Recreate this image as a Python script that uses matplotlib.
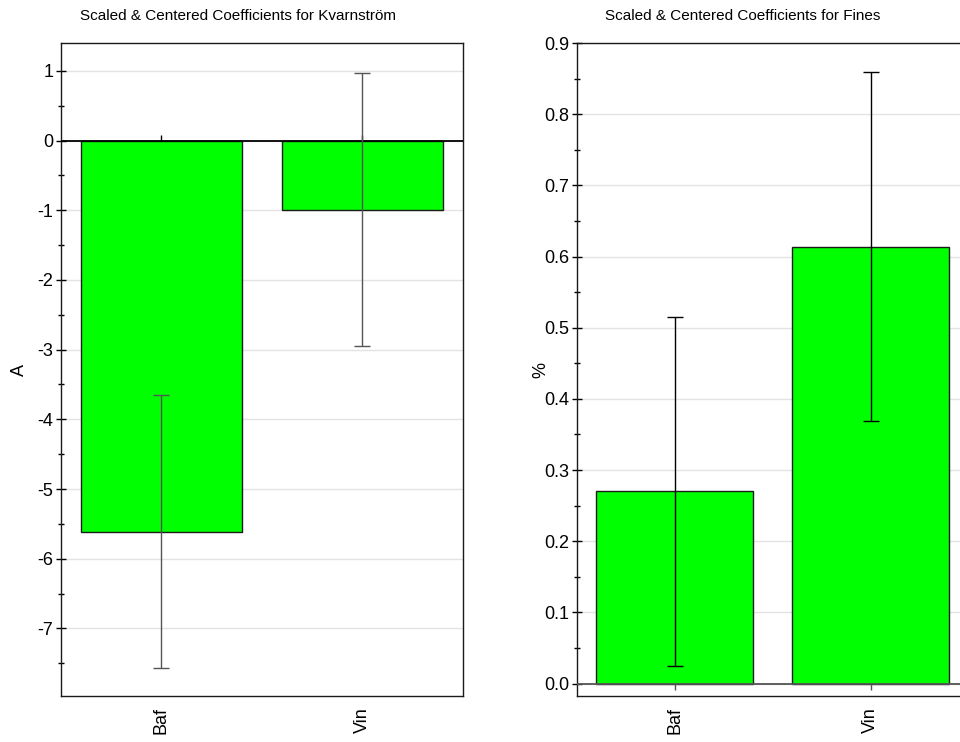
import numpy as np
import matplotlib
matplotlib.use("Agg")
import matplotlib.pyplot as plt
from matplotlib.ticker import MultipleLocator, FixedLocator, FormatStrFormatter

plt.rcParams['font.family'] = ['Liberation Sans', 'DejaVu Sans']
plt.rcParams['axes.unicode_minus'] = False

factors = ['Baf', 'Vin']

# Kvarnström response (unit A)
kv_coef = [-5.61, -0.99]
kv_err = [1.96, 1.96]
kv_ticks = [-7, -6, -5, -4, -3, -2, -1, 0, 1]

# Fines response (unit %)
fines_coef = [0.270, 0.614]
fines_err = [0.245, 0.245]
fines_ticks = [0.0, 0.1, 0.2, 0.3, 0.4, 0.5, 0.6, 0.7, 0.8, 0.9]

BAR_GREEN = '#00ff00'
GRID_GREY = '#e3e3e3'

fig = plt.figure(figsize=(9.6, 7.42), dpi=100)
ax1 = fig.add_axes([0.0635, 0.062, 0.41875, 0.880])
ax2 = fig.add_axes([0.6007, 0.062, 0.4083, 0.880])

x = np.arange(len(factors))


def coef_panel(ax, coef, err, ylim, ticks, minor, fmt, ylabel, labelpad,
               err_color, zero_color, zero_tick):
    ax.set_axisbelow(True)
    ax.yaxis.grid(True, color=GRID_GREY, lw=1.0)
    ax.bar(x, coef, width=0.8, color=BAR_GREEN, edgecolor='#1a1a1a', lw=1.0, zorder=2)
    ax.axhline(0, color=zero_color, lw=1.3, zorder=3)
    ax.plot(x, np.zeros(len(x)), ls='none', marker=zero_tick, ms=4,
            mew=1.0, color=zero_color, zorder=3)
    ax.errorbar(x, coef, yerr=err, fmt='none', ecolor=err_color,
                elinewidth=1.0, capsize=6, capthick=1.0, zorder=4)
    ax.set_xlim(-0.5, 1.5)
    ax.set_ylim(*ylim)
    ax.yaxis.set_major_locator(FixedLocator(ticks))
    ax.yaxis.set_minor_locator(MultipleLocator(minor))
    ax.yaxis.set_major_formatter(FormatStrFormatter(fmt))
    ax.tick_params(axis='y', which='major', direction='inout', length=7,
                   width=1.0, labelsize=13, pad=2)
    ax.tick_params(axis='y', which='minor', direction='inout', length=4, width=1.0)
    ax.set_xticks(x)
    ax.set_xticklabels(factors, rotation=90, fontsize=13)
    ax.tick_params(axis='x', length=0, pad=8)
    ax.set_ylabel(ylabel, fontsize=13, labelpad=labelpad)
    for s in ax.spines.values():
        s.set_linewidth(1.0)
        s.set_color('#1a1a1a')


coef_panel(ax1, kv_coef, kv_err, (-7.97, 1.4), kv_ticks, 0.5, '%d', 'A', 7,
           '#555555', '#000000', 2)
coef_panel(ax2, fines_coef, fines_err, (-0.0175, 0.9), fines_ticks, 0.05, '%.1f', '%', -4,
           '#000000', '#555555', 3)

fig.text(0.2475, 0.978, 'Scaled & Centered Coefficients for Kvarnström',
         ha='center', va='center', fontsize=11)
fig.text(0.7735, 0.978, 'Scaled & Centered Coefficients for Fines',
         ha='center', va='center', fontsize=11)

fig.savefig('out.png', dpi=100)
